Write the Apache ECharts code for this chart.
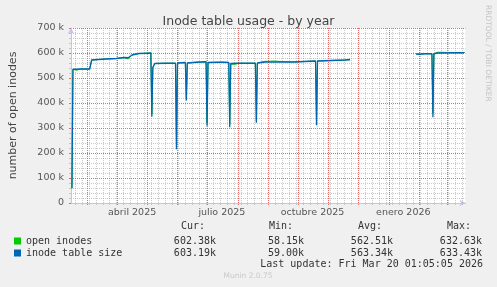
<!DOCTYPE html>
<html><head><meta charset="utf-8">
<script src="https://cdn.jsdelivr.net/npm/echarts@6/dist/echarts.min.js"></script>
<style>html,body{margin:0;padding:0;background:#f0f0f0}#c{width:497px;height:287px}</style>
</head><body><div id="c"></div>
<script>
// ---- data ----
const dates = [
  '2025-02-14','2025-02-15','2025-02-17','2025-02-19','2025-02-22','2025-03-04','2025-03-06','2025-03-08',
  '2025-03-20','2025-03-31','2025-04-08','2025-04-12','2025-04-14','2025-04-16','2025-04-19','2025-04-21',
  '2025-04-23','2025-05-02','2025-05-05','2025-05-06','2025-05-07','2025-05-09','2025-05-20','2025-05-30',
  '2025-05-31','2025-06-01','2025-06-09','2025-06-10','2025-06-11','2025-06-20','2025-06-30','2025-07-01',
  '2025-07-02','2025-07-13','2025-07-15','2025-07-17','2025-07-23','2025-07-24','2025-07-25','2025-07-30',
  '2025-08-02','2025-08-19','2025-08-20','2025-08-21','2025-08-22','2025-08-29','2025-09-02','2025-09-04',
  '2025-09-06','2025-09-10','2025-09-12','2025-09-26','2025-09-27','2025-09-28','2025-10-19','2025-10-20',
  '2025-10-21','2025-10-23','2025-11-18','2025-11-20','2025-11-23','2025-11-24',
  '2026-01-29','2026-02-02','2026-02-05','2026-02-07','2026-02-08','2026-02-14','2026-02-15','2026-02-16',
  '2026-02-18','2026-02-20','2026-02-23','2026-02-24','2026-03-10','2026-03-12','2026-03-14','2026-03-18',
  '2026-03-19'
];
const inodeTableSize = [
  59000,535000,535000,535000,536000,536000,572000,575000,
  576000,578000,582000,581000,578000,592000,595000,589000,
  598000,599000,599000,345000,543000,558000,559000,559000,
  215000,560000,562000,410000,560000,563000,565000,309000,
  562000,563000,563000,563000,562000,303000,558000,559000,
  559000,559000,321000,560000,564000,564000,564000,564000,
  564000,564000,564000,564000,560000,568000,568000,311000,
  568000,572000,572000,573000,573000,null,
  596000,595000,596000,597000,597000,597000,343000,597000,
  600000,600000,600000,600000,601000,601000,601000,601000,
  603190
];
const openInodes = [
  58150,535000,530000,531000,536000,536000,572000,575000,
  576000,578000,582000,576000,574000,592000,595000,589000,
  598000,599000,602000,355000,538000,558000,559000,559000,
  225000,560000,562000,420000,560000,563000,565000,320000,
  562000,563000,556000,563000,562000,315000,555000,555000,
  559000,559000,330000,560000,564000,567000,567000,564000,
  568000,567000,564000,564000,560000,568000,568000,320000,
  568000,572000,572000,576000,576000,null,
  596000,595000,599000,599000,597000,597000,360000,597000,
  600000,603000,603000,600000,601000,604000,601000,601000,
  602380
];
const seriesNames = ['open inodes','inode table size'];
const seriesColors = ['#00cc00','#0066b3'];
const statCur = ['602.38k','603.19k'];
const statMin = ['58.15k','59.00k'];
const statAvg = ['562.51k','563.34k'];
const statMax = ['632.63k','633.43k'];
const xTickLabels = ['abril 2025','julio 2025','octubre 2025','enero 2026'];
const xTickLabelDates = ['2025-04-16','2025-07-16','2025-10-16','2026-01-16'];
const yTickValues = [0,100000,200000,300000,400000,500000,600000,700000];
const yTickLabels = ['0','100 k','200 k','300 k','400 k','500 k','600 k','700 k'];
const rangeStart = '2025-02-13 01:05:05';
const rangeEnd = '2026-03-20 01:05:05';

// ---- helpers ----
function ts(s){
  const [d,t='00:00:00']=s.split(' ');
  const [Y,M,D]=d.split('-').map(Number);
  const [h,m,sec]=t.split(':').map(Number);
  return new Date(Y,M-1,D,h,m,sec).getTime();
}
const xMin = ts(rangeStart), xMax = ts(rangeEnd);
const monthStarts = [];
for (let k=0;k<14;k++){ const t=new Date(2025,2+k,1).getTime(); if(t>xMin&&t<xMax) monthStarts.push(t); }
const weekStarts = [];
for (let k=0;k<60;k++){ const t=new Date(2025,1,17+7*k).getTime(); if(t>xMin&&t<xMax && monthStarts.indexOf(t)<0) weekStarts.push(t); }
const labelTs = xTickLabelDates.map(ts);
const labelMap = {}; labelTs.forEach((t,i)=>labelMap[t]=xTickLabels[i]);
const yLabelMap = {}; yTickValues.forEach((v,i)=>yLabelMap[v]=yTickLabels[i]);

const mkData = arr => dates.map((d,i)=>[ts(d), arr[i]]);
const seriesValues = [openInodes, inodeTableSize];

const FONT = 'DejaVu Sans';
const MONO = 'DejaVu Sans Mono';
const majorColor = 'rgba(225,70,70,0.8)';
const minorColor = 'rgba(140,140,140,0.45)';
const axisColor = '#c4c4f4';

// vertical grid lines (kind 0 = weekly minor, 1 = monthly major), positioned by the x scale
const vGridData = weekStarts.map(t=>[t,0]).concat(monthStarts.map(t=>[t,1]));

const chart = echarts.init(document.getElementById('c'), null, {renderer:'canvas'});
chart.setOption({
  animation:false,
  backgroundColor:'#f0f0f0',
  title:{
    text:'Inode table usage - by year', left:'center', top:10,
    textStyle:{fontFamily:FONT, fontSize:12.5, fontWeight:'normal', color:'#444'}
  },
  grid:{left:65.5, top:28, width:400, height:175, show:true, backgroundColor:'#ffffff', borderWidth:0},
  legend:{
    orient:'vertical', left:9, top:230, itemWidth:7, itemHeight:7, itemGap:0, icon:'rect',
    selectedMode:false, data:seriesNames,
    formatter: name => { const i=seriesNames.indexOf(name);
      return `{n|${name}}{c|${statCur[i]}}{m|${statMin[i]}}{a|${statAvg[i]}}{x|${statMax[i]}}`; },
    textStyle:{fontFamily:MONO, fontSize:10, color:'#333', lineHeight:12,
      rich:{
        n:{fontFamily:MONO,fontSize:10,width:130,color:'#333'},
        c:{fontFamily:MONO,fontSize:10,width:60,align:'right',color:'#333'},
        m:{fontFamily:MONO,fontSize:10,width:88,align:'right',color:'#333'},
        a:{fontFamily:MONO,fontSize:10,width:89,align:'right',color:'#333'},
        x:{fontFamily:MONO,fontSize:10,width:89,align:'right',color:'#333'}
      }}
  },
  xAxis:{
    type:'value', position:'bottom', min:xMin, max:xMax, scale:true,
    axisLine:{show:true, lineStyle:{color:axisColor, width:1}, symbol:['none','arrow'], symbolSize:[5,6]},
    axisTick:{show:false},
    axisLabel:{show:true, customValues:labelTs, margin:5, fontFamily:FONT, fontSize:9.5, color:'#555',
      formatter: v => labelMap[v] || ''},
    splitLine:{show:false}
  },
  yAxis:{
    type:'value', min:0, max:700000, interval:100000,
    name:'number of open inodes', nameLocation:'middle', nameGap:52, nameRotate:90,
    nameTextStyle:{fontFamily:FONT, fontSize:11, color:'#444'},
    axisLine:{show:true, lineStyle:{color:axisColor, width:1}, symbol:['none','arrow'], symbolSize:[5,6]},
    axisTick:{show:true, length:2, lineStyle:{color:majorColor}},
    minorTick:{show:true, splitNumber:5, length:2, lineStyle:{color:minorColor}},
    axisLabel:{margin:7, fontFamily:FONT, fontSize:9.5, color:'#555', formatter: v => yLabelMap[v] ?? ''},
    splitLine:{show:true, lineStyle:{color:majorColor, width:1, type:[1,1]}},
    minorSplitLine:{show:true, lineStyle:{color:minorColor, width:1, type:[1,1]}}
  },
  series: [{
    name:'vgrid', type:'custom', data:vGridData, silent:true, z:1, clip:false,
    encode:{x:0},
    renderItem:(params, api) => {
      const x = Math.round(api.coord([api.value(0), 0])[0]) + 0.5;
      const cs = params.coordSys;
      const major = api.value(1) === 1;
      return {type:'line', silent:true,
        shape:{x1:x, y1:cs.y, x2:x, y2:cs.y + cs.height + 2},
        style:{stroke: major ? majorColor : minorColor, lineWidth:1, lineDash:[1,1]}};
    }
  }].concat(seriesNames.map((nm,i)=>({
    name:nm, type:'line', data:mkData(seriesValues[i]), showSymbol:false, symbol:'none',
    connectNulls:false, lineStyle:{width: i===1 ? 1.3 : 1, color:seriesColors[i]}, itemStyle:{color:seriesColors[i]},
    z:3+i
  }))),
  graphic:[
    {type:'text', left:181, top:221, style:{text:'Cur:', font:`10px "${MONO}"`, fill:'#333'}},
    {type:'text', left:269, top:221, style:{text:'Min:', font:`10px "${MONO}"`, fill:'#333'}},
    {type:'text', left:358, top:221, style:{text:'Avg:', font:`10px "${MONO}"`, fill:'#333'}},
    {type:'text', left:447, top:221, style:{text:'Max:', font:`10px "${MONO}"`, fill:'#333'}},
    {type:'text', right:14, top:259, style:{text:'Last update: Fri Mar 20 01:05:05 2026', font:`10px "${MONO}"`, fill:'#333'}},
    {type:'text', x:248, y:276, style:{text:'Munin 2.0.75', font:`7.5px "${FONT}"`, fill:'#c8c8c8', align:'center', verticalAlign:'middle'}},
    {type:'text', x:488, y:5, rotation:-Math.PI/2, style:{text:'RRDTOOL / TOBI OETIKER', font:`7.5px "${FONT}"`, fill:'#c4c4c4', align:'left', verticalAlign:'middle'}}
  ]
});
</script></body></html>
